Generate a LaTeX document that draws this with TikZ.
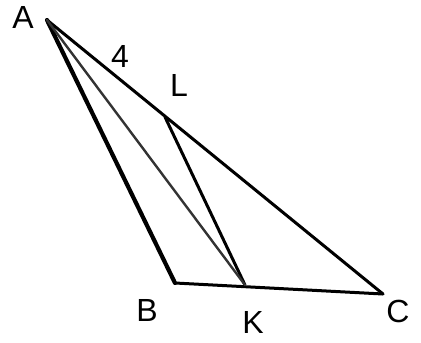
\documentclass[tikz,border=0pt]{standalone}
\usepackage{fontspec}
\setmainfont{Liberation Sans}
\begin{document}
\begin{tikzpicture}[x=1pt,y=-1pt,
  seg/.style={line width=3pt,black,line cap=round},
  thickseg/.style={line width=4.2pt,black,line cap=round},
  faintseg/.style={line width=2.4pt,black!80,line cap=round},
  lab/.style={font=\fontsize{32}{32}\selectfont,inner sep=0pt}]
\useasboundingbox (0,0) rectangle (421,343);
\coordinate (A) at (47,20);
\coordinate (B) at (175,283);
\coordinate (K) at (245,285);
\coordinate (C) at (383,294);
\coordinate (L) at (165,117);
\draw[thickseg] (A) -- (B);
\draw[seg] (B) -- (C);
\draw[seg] (A) -- (C);
\draw[seg] (L) -- (K);
\draw[faintseg] (A) -- (K);
\node[lab] (lA) at (23,17) {A};
\node[lab] (l4) at (120,56) {4};
\node[lab] (lL) at (179,85) {L};
\node[lab] (lB) at (147,310) {B};
\node[lab] (lK) at (253,322) {K};
\node[lab] (lC) at (398,311) {C};
\end{tikzpicture}
\end{document}
